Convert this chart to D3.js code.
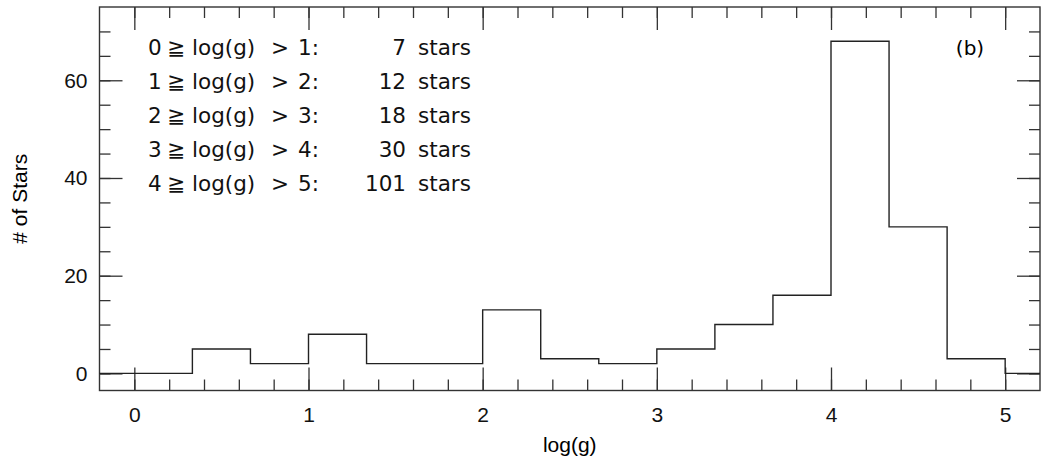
<!DOCTYPE html>
<html>
<head>
<meta charset="utf-8">
<script src="https://cdn.jsdelivr.net/npm/d3@7"></script>
<style>
  body { margin: 0; background: #fff; }
  .axis text { font-family: "Liberation Sans", Arial, sans-serif; font-size: 21px; fill: #111; }
  .axis line { stroke: #333; stroke-width: 1.3; }
  .legend text { font-family: "DejaVu Sans", sans-serif; font-size: 21.5px; fill: #111; }
</style>
</head>
<body>
<div class="graphContainer"></div>
<script>
// histogram bins in log(g), width 1/3
var binEdges = [0, 1/3, 2/3, 1, 4/3, 5/3, 2, 7/3, 8/3, 3, 10/3, 11/3, 4, 13/3, 14/3, 5];
var binCounts = [0, 5, 2, 8, 2, 2, 13, 3, 2, 5, 10, 16, 68, 30, 3];

// legend rows
var legendLow = [0, 1, 2, 3, 4];
var legendHigh = [1, 2, 3, 4, 5];
var legendStars = [7, 12, 18, 30, 101];

var xTicks = [0, 1, 2, 3, 4, 5];
var yTicks = [0, 20, 40, 60];
var panelLabel = "(b)";

var w = 1041, h = 466;
var pLeft = 99.5, pRight = 1040, pTop = 7, pBottom = 390.5;

var x = d3.scaleLinear().domain([-0.2, 5.2]).range([pLeft, pRight]);
var y = d3.scaleLinear().domain([-3.5, 75]).range([pBottom, pTop]);

var svg = d3.select(".graphContainer")
    .append("svg")
    .attr("width", w)
    .attr("height", h);

var xMinor = d3.range(0, 5.01, 0.2);
var yMinor = d3.range(0, 75, 5);

// minor ticks, all four sides
svg.append("g").attr("class", "axis").attr("transform", "translate(0," + pBottom + ")")
    .call(d3.axisBottom(x).tickValues(xMinor).tickSize(-11).tickFormat(""));
svg.append("g").attr("class", "axis").attr("transform", "translate(0," + pTop + ")")
    .call(d3.axisTop(x).tickValues(xMinor).tickSize(-11).tickFormat(""));
svg.append("g").attr("class", "axis").attr("transform", "translate(" + pLeft + ",0)")
    .call(d3.axisLeft(y).tickValues(yMinor).tickSize(-11).tickFormat(""));
svg.append("g").attr("class", "axis").attr("transform", "translate(" + pRight + ",0)")
    .call(d3.axisRight(y).tickValues(yMinor).tickSize(-11).tickFormat(""));

// major ticks with labels
svg.append("g").attr("class", "axis").attr("transform", "translate(0," + pBottom + ")")
    .call(d3.axisBottom(x).tickValues(xTicks).tickSize(-23).tickPadding(17).tickFormat(d3.format("d")));
svg.append("g").attr("class", "axis").attr("transform", "translate(0," + pTop + ")")
    .call(d3.axisTop(x).tickValues(xTicks).tickSize(-23).tickFormat(""));
svg.append("g").attr("class", "axis").attr("transform", "translate(" + pLeft + ",0)")
    .call(d3.axisLeft(y).tickValues(yTicks).tickSize(-23).tickPadding(12).tickFormat(d3.format("d")));
svg.append("g").attr("class", "axis").attr("transform", "translate(" + pRight + ",0)")
    .call(d3.axisRight(y).tickValues(yTicks).tickSize(-23).tickFormat(""));

svg.selectAll(".axis .domain").remove();

// frame
svg.append("rect")
    .attr("x", pLeft)
    .attr("y", pTop)
    .attr("width", pRight - pLeft)
    .attr("height", pBottom - pTop)
    .attr("fill", "none")
    .attr("stroke", "#333")
    .attr("stroke-width", 1.4);

// histogram outline
var steps = [{x: x.domain()[0], c: 0}];
binEdges.slice(0, -1).forEach(function (e, i) {
    steps.push({x: e, c: binCounts[i]});
});
steps.push({x: binEdges[binEdges.length - 1], c: 0});
steps.push({x: x.domain()[1], c: 0});

var line = d3.line()
    .x(function (d) { return x(d.x); })
    .y(function (d) { return y(d.c); })
    .curve(d3.curveStepAfter);

svg.append("path")
    .datum(steps)
    .attr("d", line)
    .attr("fill", "none")
    .attr("stroke", "#222")
    .attr("stroke-width", 1.4);

// axis titles
svg.append("text")
    .attr("x", (pLeft + pRight) / 2)
    .attr("y", 452)
    .attr("text-anchor", "middle")
    .style("font-family", "Liberation Sans, Arial, sans-serif")
    .style("font-size", "21px")
    .text("log(g)");

svg.append("text")
    .attr("transform", "translate(27," + (pTop + pBottom) / 2 + ") rotate(-90)")
    .attr("text-anchor", "middle")
    .style("font-family", "Liberation Sans, Arial, sans-serif")
    .style("font-size", "21px")
    .text("# of Stars");

// legend
var legend = svg.append("g").attr("class", "legend");
var rows = legend.selectAll("g")
    .data(legendLow)
    .enter()
    .append("g")
    .attr("transform", function (d, i) { return "translate(0," + (55 + i * 34) + ")"; });

rows.append("text").attr("x", 148).text(function (d) { return d; });
rows.append("text").attr("x", 167).text("\u2267");
rows.append("text").attr("x", 192).text("log(g)");
rows.append("text").attr("x", 271).text(">");
rows.append("text").attr("x", 298).text(function (d, i) { return legendHigh[i] + ":"; });
rows.append("text").attr("x", 406).attr("text-anchor", "end").text(function (d, i) { return legendStars[i]; });
rows.append("text").attr("x", 418).text("stars");

svg.append("text")
    .attr("x", 970)
    .attr("y", 55)
    .attr("text-anchor", "middle")
    .style("font-family", "DejaVu Sans, sans-serif")
    .style("font-size", "20px")
    .text(panelLabel);
</script>
</body>
</html>
